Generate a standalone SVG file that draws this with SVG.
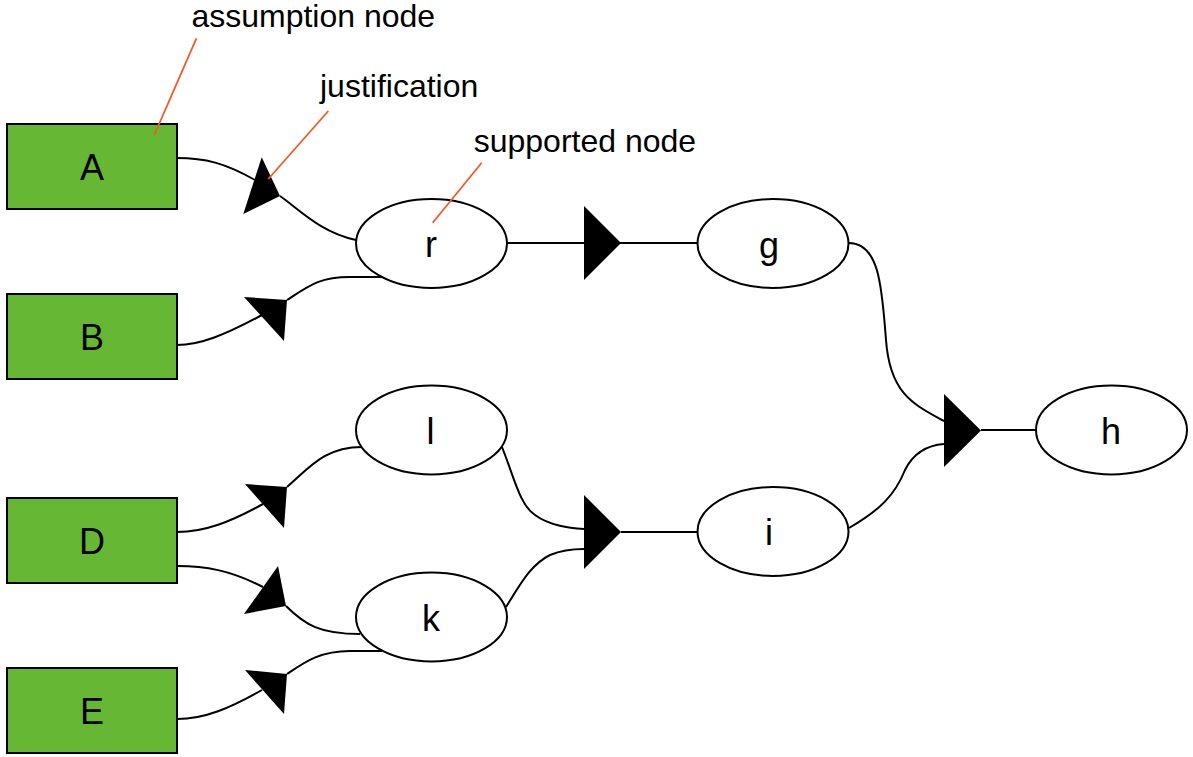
<svg xmlns="http://www.w3.org/2000/svg" width="1193" height="757" viewBox="0 0 1193 757">
  <style>
    .assume { fill: #66b733; stroke: #000; stroke-width: 2; }
    .supp { fill: #fff; stroke: #000; stroke-width: 2; }
    .lbl { font-family: "Liberation Sans", Arial, Helvetica, sans-serif; font-size: 36px; fill: #000; text-anchor: middle; }
    .note { font-family: "Liberation Sans", Arial, Helvetica, sans-serif; font-size: 32px; fill: #000; }
    .edge { fill: none; stroke: #000; stroke-width: 2; }
    .just { fill: #000; stroke: none; }
    .lead { stroke: #f15a24; stroke-width: 1.8; fill: none; }
  </style>
  <rect width="1193" height="757" fill="#fff"/>

  <!-- connectors: edges into justifications and from justifications to supported nodes -->
  <g id="connectors">
    <!-- A -> r -->
    <path class="edge" d="M177,158 C205,158 225,163 255,180"/>
    <polygon class="just" points="261.7,157.3 243.3,214 280,196"/>
    <path class="edge" d="M280,196 C300,210 320,232 356,240"/>
    <!-- B -> r -->
    <path class="edge" d="M177,345 C200,345 225,335 262,315"/>
    <polygon class="just" points="244,297 287,300 284,341"/>
    <path class="edge" d="M287,300 C310,285 320,277 350,277 L382,277"/>
    <!-- r -> g -->
    <path class="edge" d="M507,243 L697,243"/>
    <polygon class="just" points="584,206 584,280 621,243"/>
    <!-- D -> l -->
    <path class="edge" d="M177,532 C205,532 230,522 263,504"/>
    <polygon class="just" points="245,484 287,487 284,528"/>
    <path class="edge" d="M287,487 C310,467 325,447 362,447"/>
    <!-- D -> k -->
    <path class="edge" d="M177,566 C205,566 230,570 263,587"/>
    <polygon class="just" points="278,566 244,614 286,606"/>
    <path class="edge" d="M286,606 C305,625 320,634 360,634"/>
    <!-- E -> k -->
    <path class="edge" d="M177,719 C205,719 230,708 262,690"/>
    <polygon class="just" points="245,670 287,674 284,714"/>
    <path class="edge" d="M287,674 C305,662 320,651 350,651 L382,651"/>
    <!-- l, k -> i -->
    <path class="edge" d="M502,447 C515,480 520,505 535,515 C550,526 570,528 584,529"/>
    <path class="edge" d="M506,607 C520,585 530,565 550,555 C562,550 575,549 584,549"/>
    <polygon class="just" points="584,495 584,569 621,532"/>
    <path class="edge" d="M621,532 L697,532"/>
    <!-- g, i -> h -->
    <path class="edge" d="M849,243 C880,243 882,290 886,340 C890,395 915,405 944,421"/>
    <path class="edge" d="M849,528 C880,510 895,495 905,470 C915,450 930,445 944,444"/>
    <polygon class="just" points="944,394 944,467 981,430.5"/>
    <path class="edge" d="M981,430 L1036,430"/>
  </g>

  <!-- assumption nodes -->
  <g id="node-A"><rect class="assume" x="7" y="124" width="170" height="85"/><text class="lbl" x="92" y="180">A</text></g>
  <g id="node-B"><rect class="assume" x="7" y="294" width="170" height="85"/><text class="lbl" x="92" y="350">B</text></g>
  <g id="node-D"><rect class="assume" x="7" y="498" width="170" height="85"/><text class="lbl" x="92" y="554">D</text></g>
  <g id="node-E"><rect class="assume" x="7" y="668" width="170" height="85"/><text class="lbl" x="92" y="724">E</text></g>

  <!-- supported nodes -->
  <g id="node-r"><ellipse class="supp" cx="431.5" cy="243.5" rx="75.5" ry="44.5"/><text class="lbl" x="431" y="257">r</text></g>
  <g id="node-g"><ellipse class="supp" cx="773" cy="243.5" rx="75.5" ry="44.5"/><text class="lbl" x="769" y="258">g</text></g>
  <g id="node-l"><ellipse class="supp" cx="431.5" cy="430" rx="75.5" ry="44.5"/><text class="lbl" x="430.5" y="444">l</text></g>
  <g id="node-k"><ellipse class="supp" cx="431.5" cy="617" rx="75.5" ry="44.5"/><text class="lbl" x="431" y="631">k</text></g>
  <g id="node-i"><ellipse class="supp" cx="773" cy="531.5" rx="75.5" ry="44.5"/><text class="lbl" x="769" y="545">i</text></g>
  <g id="node-h"><ellipse class="supp" cx="1111.5" cy="430" rx="75.5" ry="44.5"/><text class="lbl" x="1111" y="444">h</text></g>

  <!-- legend callouts -->
  <g id="callouts">
    <line class="lead" x1="196.4" y1="38.3" x2="154.3" y2="135"/>
    <line class="lead" x1="328.3" y1="111" x2="268.3" y2="179"/>
    <line class="lead" x1="481.7" y1="162.7" x2="432.7" y2="222.7"/>
    <text class="note" x="191.4" y="26.7">assumption node</text>
    <text class="note" x="320" y="96.7">justification</text>
    <text class="note" x="473.7" y="151.7">supported node</text>
  </g>
</svg>
